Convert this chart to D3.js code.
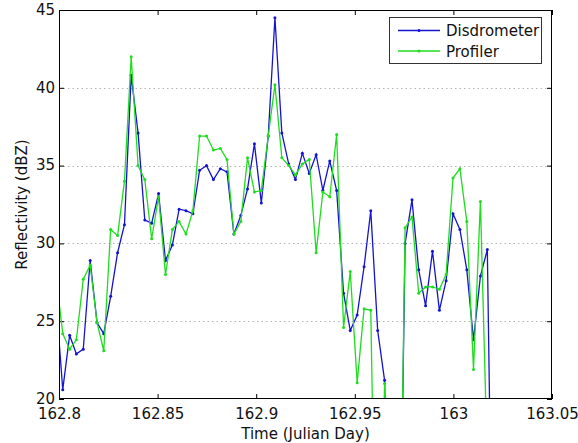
<!DOCTYPE html>
<html>
<head>
<meta charset="utf-8">
<script src="https://cdn.jsdelivr.net/npm/d3@7"></script>
<style>
  body { margin: 0; background: #fff; }
  text { font-family: "DejaVu Sans", sans-serif; }
</style>
</head>
<body>
<div id="chart"></div>
<script>
// sample times (Julian day), 5 minute steps
const times = [
  162.7984, 162.8019, 162.8054, 162.8088, 162.8123, 162.8158, 162.8193, 162.8227, 162.8262, 162.8297,
  162.8332, 162.8366, 162.8401, 162.8435, 162.8470, 162.8505, 162.8540, 162.8575, 162.8609, 162.8644,
  162.8679, 162.8713, 162.8748, 162.8783, 162.8818, 162.8852, 162.8887, 162.8922, 162.8956, 162.8991,
  162.9026, 162.9061, 162.9095, 162.9130, 162.9165, 162.9199, 162.9234, 162.9269, 162.9304, 162.9338,
  162.9373, 162.9408, 162.9443, 162.9477, 162.9512, 162.9547, 162.9581, 162.9616, 162.9651, 162.9686,
  162.9720, 162.9755, 162.9790, 162.9824, 162.9859, 162.9894, 162.9929, 162.9963, 162.9998, 163.0033,
  163.0068, 163.0102, 163.0137, 163.0172, 163.0206
];

const disdrometer = [
  26.5, 20.6, 24.1, 22.9, 23.2, 28.9, 24.9, 24.2, 26.6, 29.4,
  31.2, 40.8, 37.1, 31.5, 31.3, 33.2, 28.9, 29.9, 32.2, 32.1,
  31.9, 34.7, 35.0, 34.1, 34.8, 34.6, 30.6, 31.8, 33.5, 36.4,
  32.6, 36.9, 44.5, 37.1, 35.1, 34.1, 35.8, 34.5, 35.7, 33.4,
  35.3, 33.4, 26.8, 24.4, 25.4, 28.5, 32.1, 24.4, 21.2, 0,
  0, 30.0, 32.8, 28.3, 26.0, 29.5, 25.7, 27.6, 31.9, 30.9,
  28.3, 23.8, 27.9, 29.6, 0
];

const profiler = [
  28.0, 24.2, 23.2, 23.8, 27.7, 28.6, 24.9, 23.1, 30.9, 30.5,
  34.0, 42.0, 35.0, 34.1, 30.3, 33.0, 28.0, 30.9, 31.4, 30.6,
  32.1, 36.9, 36.9, 36.0, 36.1, 35.4, 30.6, 31.4, 35.5, 33.3,
  33.4, 36.9, 40.2, 35.5, 35.0, 34.4, 35.1, 35.4, 29.4, 33.3,
  33.0, 37.0, 24.6, 28.2, 21.05, 25.8, 25.7, 0, 21.0, 0,
  0, 31.0, 31.7, 26.8, 27.2, 27.2, 27.05, 28.0, 34.2, 34.8,
  31.4, 21.9, 32.7, 16.0
];

const xTicks = [162.8, 162.85, 162.9, 162.95, 163, 163.05];
const xTickLabels = ["162.8", "162.85", "162.9", "162.95", "163", "163.05"];
const yTicks = [20, 25, 30, 35, 40, 45];
const seriesNames = ["Disdrometer", "Profiler"];
const seriesColors = ["#1414d0", "#1edc1e"];

const margin = {top: 10, right: 26, bottom: 44, left: 59};
const width = 578 - margin.left - margin.right;
const height = 443 - margin.top - margin.bottom;

const svg = d3.select("#chart").append("svg")
    .attr("width", 578)
    .attr("height", 443)
  .append("g")
    .attr("transform", `translate(${margin.left},${margin.top})`);

const x = d3.scaleLinear().domain([162.8, 163.05]).range([0, width]);
const y = d3.scaleLinear().domain([20, 45]).range([height, 0]);

svg.append("clipPath").attr("id", "clip")
  .append("rect").attr("width", width).attr("height", height);

// horizontal dotted grid
svg.append("g")
  .selectAll("line")
  .data(yTicks.slice(1, -1))
  .join("line")
    .attr("x1", 0).attr("x2", width)
    .attr("y1", d => Math.round(y(d)) + 0.5)
    .attr("y2", d => Math.round(y(d)) + 0.5)
    .attr("stroke", "#b4b4b4")
    .attr("stroke-dasharray", "1.5,3");

const fmtX = (d, i) => xTickLabels[i];

svg.append("g")
  .attr("transform", `translate(0,${height})`)
  .call(d3.axisBottom(x).tickValues(xTicks).tickFormat(fmtX).tickSizeInner(-5).tickSizeOuter(0).tickPadding(9))
  .call(g => g.select(".domain").remove());

svg.append("g")
  .call(d3.axisTop(x).tickValues(xTicks).tickFormat("").tickSizeInner(-5).tickSizeOuter(0))
  .call(g => g.select(".domain").remove());

svg.append("g")
  .call(d3.axisLeft(y).tickValues(yTicks).tickFormat(d3.format("d")).tickSizeInner(-5).tickSizeOuter(0).tickPadding(4))
  .call(g => g.select(".domain").remove())
  .call(g => g.selectAll(".tick text").attr("dy", "0.28em"));

svg.append("g")
  .attr("transform", `translate(${width},0)`)
  .call(d3.axisRight(y).tickValues(yTicks).tickFormat("").tickSizeInner(-5).tickSizeOuter(0))
  .call(g => g.select(".domain").remove());

svg.selectAll(".tick text")
  .attr("font-size", 15)
  .attr("font-family", "DejaVu Sans, sans-serif")
  .attr("fill", "#111");
svg.selectAll(".tick line").attr("stroke", "#000");

// data lines
const series = [disdrometer, profiler];
const plot = svg.append("g").attr("clip-path", "url(#clip)");

series.forEach((vals, s) => {
  const pts = vals.map((v, i) => [times[i], v]);
  plot.append("path")
    .datum(pts)
    .attr("fill", "none")
    .attr("stroke", seriesColors[s])
    .attr("stroke-width", 1.3)
    .attr("d", d3.line().x(d => x(d[0])).y(d => y(d[1])));
  plot.append("g")
    .selectAll("circle")
    .data(pts)
    .join("circle")
      .attr("cx", d => x(d[0]))
      .attr("cy", d => y(d[1]))
      .attr("r", 1.5)
      .attr("fill", seriesColors[s]);
});

// axes box
svg.append("rect")
  .attr("x", 0.5).attr("y", 0.5)
  .attr("width", width - 1).attr("height", height - 1)
  .attr("fill", "none")
  .attr("stroke", "#000");

// axis labels
svg.append("text")
  .attr("x", width / 2)
  .attr("y", height + 40)
  .attr("text-anchor", "middle")
  .attr("font-size", 15)
  .attr("fill", "#111")
  .text("Time (Julian Day)");

svg.append("text")
  .attr("transform", `translate(${-32},${height / 2}) rotate(-90)`)
  .attr("text-anchor", "middle")
  .attr("font-size", 15)
  .attr("fill", "#111")
  .text("Reflectivity (dBZ)");

// legend
const legend = svg.append("g").attr("transform", `translate(${389 - margin.left},${17 - margin.top})`);
legend.append("rect")
  .attr("x", 0.5).attr("y", 0.5)
  .attr("width", 152).attr("height", 46)
  .attr("fill", "#fff")
  .attr("stroke", "#333");

seriesNames.forEach((name, s) => {
  const ly = 13.5 + s * 20.5;
  legend.append("line")
    .attr("x1", 9).attr("x2", 51)
    .attr("y1", ly).attr("y2", ly)
    .attr("stroke", seriesColors[s])
    .attr("stroke-width", 1.3);
  legend.append("circle")
    .attr("cx", 30).attr("cy", ly).attr("r", 1.5)
    .attr("fill", seriesColors[s]);
  legend.append("text")
    .attr("x", 57).attr("y", ly + 5.5)
    .attr("font-size", 15)
    .attr("fill", "#111")
    .text(name);
});
</script>
</body>
</html>
